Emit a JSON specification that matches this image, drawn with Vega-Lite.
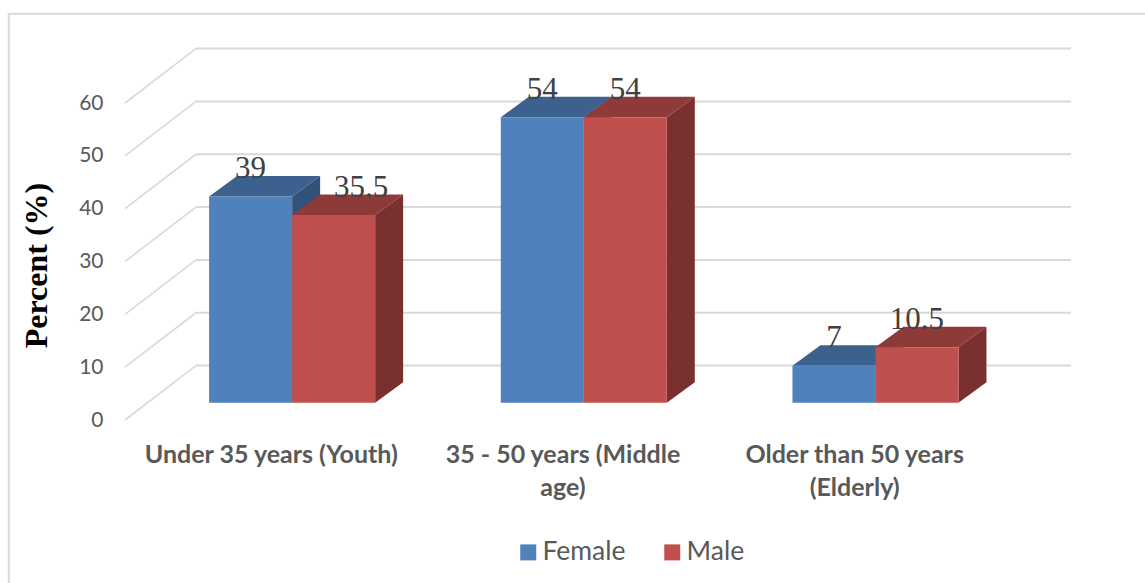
{
  "$schema": "https://vega.github.io/schema/vega-lite/v6.json",
  "width": 875,
  "height": 317,
  "autosize": "none",
  "padding": {"left": 125, "top": 103, "right": 145, "bottom": 163},
  "background": "white",
  "config": {"view": {"stroke": null}},
  "datasets": {
    "bars": [
      {"age": "Under 35 years (Youth)", "slot": 0, "sex": "Female", "side": 0, "percent": 39},
      {"age": "Under 35 years (Youth)", "slot": 0, "sex": "Male", "side": 1, "percent": 35.5},
      {"age": "35 - 50 years (Middle age)", "slot": 1, "sex": "Female", "side": 0, "percent": 54},
      {"age": "35 - 50 years (Middle age)", "slot": 1, "sex": "Male", "side": 1, "percent": 54},
      {"age": "Older than 50 years (Elderly)", "slot": 2, "sex": "Female", "side": 0, "percent": 7},
      {"age": "Older than 50 years (Elderly)", "slot": 2, "sex": "Male", "side": 1, "percent": 10.5}
    ],
    "ticks": [{"tick": 0}, {"tick": 10}, {"tick": 20}, {"tick": 30}, {"tick": 40}, {"tick": 50}, {"tick": 60}],
    "frame": [{"name": "chart area"}]
  },
  "layer": [
    {
      "description": "Chart area outline",
      "data": {"name": "frame"},
      "transform": [
        {"calculate": "-0.3987", "as": "x0"},
        {"calculate": "3.6", "as": "x1"},
        {"calculate": "76.9", "as": "y0"},
        {"calculate": "-33", "as": "y1"}
      ],
      "mark": {"type": "rect", "fill": null, "stroke": "#d9d9d9", "strokeWidth": 2, "clip": false},
      "encoding": {
        "x": {"field": "x0", "type": "quantitative", "scale": {"domain": [0, 3], "nice": false}},
        "x2": {"field": "x1"},
        "y": {"field": "y0", "type": "quantitative", "scale": {"domain": [0, 60], "nice": false}},
        "y2": {"field": "y1"}
      }
    },
    {
      "description": "Side wall gridlines running back from the front plane",
      "data": {"name": "ticks"},
      "transform": [
        {"calculate": "0", "as": "frontX"},
        {"calculate": "0.2434", "as": "wallX"},
        {"calculate": "datum.tick + 10.3", "as": "wallY"}
      ],
      "mark": {"type": "rule", "color": "#d9d9d9", "strokeWidth": 1.6},
      "encoding": {
        "x": {"field": "frontX", "type": "quantitative"},
        "x2": {"field": "wallX"},
        "y": {"field": "tick", "type": "quantitative"},
        "y2": {"field": "wallY"}
      }
    },
    {
      "description": "Back wall gridlines",
      "data": {"name": "ticks"},
      "transform": [
        {"calculate": "0.2434", "as": "wallX"},
        {"calculate": "3.2434", "as": "wallEnd"},
        {"calculate": "datum.tick + 10.3", "as": "wallY"}
      ],
      "mark": {"type": "rule", "color": "#d9d9d9", "strokeWidth": 2},
      "encoding": {
        "x": {"field": "wallX", "type": "quantitative"},
        "x2": {"field": "wallEnd"},
        "y": {"field": "wallY", "type": "quantitative"}
      }
    },
    {
      "description": "Right side faces of the bars",
      "data": {"name": "bars"},
      "transform": [
        {"calculate": "datum.slot + 0.2884 + (datum.side + 1) * 0.2846", "as": "right"},
        {"fold": ["right", "percent"], "as": ["edge", "unused"]},
        {"calculate": "datum.edge === 'percent' ? 0.096 : 0", "as": "shift"},
        {"calculate": "datum.right + datum.shift", "as": "x0"},
        {"calculate": "3.28 + (datum.edge === 'percent' ? 3.88 : 0)", "as": "yLow"},
        {"calculate": "datum.percent + datum.yLow", "as": "yHigh"},
        {"calculate": "datum.sex === 'Female' ? '#325279' : '#7a302e'", "as": "shade"},
        {"calculate": "datum.age + datum.sex", "as": "barKey"}
      ],
      "mark": {"type": "area", "orient": "vertical"},
      "encoding": {
        "x": {"field": "x0", "type": "quantitative"},
        "y": {"field": "yHigh", "type": "quantitative"},
        "y2": {"field": "yLow"},
        "detail": {"field": "barKey", "type": "nominal"},
        "fill": {"field": "shade", "type": "nominal", "scale": null}
      }
    },
    {
      "description": "Top faces of the bars",
      "data": {"name": "bars"},
      "transform": [
        {"calculate": "datum.slot + 0.2884 + datum.side * 0.2846", "as": "left"},
        {"fold": ["left", "percent"], "as": ["edge", "unused"]},
        {"calculate": "datum.edge === 'percent' ? 0.096 : 0", "as": "shift"},
        {"calculate": "datum.left + datum.shift", "as": "x0"},
        {"calculate": "datum.x0 + 0.2846", "as": "x1"},
        {"calculate": "datum.percent + 3.28 + (datum.edge === 'percent' ? 3.88 : 0)", "as": "y0"},
        {"calculate": "datum.sex === 'Female' ? '#3c618f' : '#8e3a38'", "as": "shade"},
        {"calculate": "datum.age + datum.sex", "as": "barKey"}
      ],
      "mark": {"type": "area", "orient": "horizontal"},
      "encoding": {
        "y": {"field": "y0", "type": "quantitative"},
        "x": {"field": "x0", "type": "quantitative"},
        "x2": {"field": "x1"},
        "detail": {"field": "barKey", "type": "nominal"},
        "fill": {"field": "shade", "type": "nominal", "scale": null}
      }
    },
    {
      "description": "Front faces of the bars, carrying the axes and the legend",
      "data": {"name": "bars"},
      "transform": [
        {"calculate": "datum.slot + 0.2884 + datum.side * 0.2846", "as": "left"},
        {"calculate": "datum.left + 0.2846", "as": "right"},
        {"calculate": "3.28", "as": "base"},
        {"calculate": "datum.percent + 3.28", "as": "front"}
      ],
      "mark": {"type": "rect"},
      "encoding": {
        "x": {
          "field": "left",
          "type": "quantitative",
          "axis": {
            "values": [0.5, 1.5, 2.5],
            "labelExpr": "datum.value === 0.5 ? 'Under 35 years (Youth)' : datum.value === 1.5 ? ['35 - 50 years (Middle', 'age)'] : ['Older than 50 years', '(Elderly)']",
            "title": null,
            "domain": false,
            "ticks": false,
            "grid": false,
            "labelFont": "Lato",
            "labelFontSize": 25,
            "labelFontWeight": "bold",
            "labelColor": "#595959",
            "labelPadding": 22,
            "labelLineHeight": 33,
            "labelFlush": false,
            "labelOverlap": false,
            "labelLimit": 400
          }
        },
        "x2": {"field": "right"},
        "y": {
          "field": "base",
          "type": "quantitative",
          "axis": {
            "values": [0, 10, 20, 30, 40, 50, 60],
            "title": "Percent (%)",
            "titleFont": "Liberation Serif",
            "titleFontSize": 32,
            "titleFontWeight": "bold",
            "titleColor": "#000000",
            "titlePadding": 25,
            "titleY": 162,
            "domain": false,
            "ticks": false,
            "grid": false,
            "labelFont": "Lato",
            "labelFontSize": 21,
            "labelColor": "#595959",
            "labelPadding": 22
          }
        },
        "y2": {"field": "front"},
        "color": {
          "field": "sex",
          "type": "nominal",
          "scale": {
            "domain": ["Female", "Male"],
            "range": ["#4f81bd", "#c0504d"]
          },
          "legend": {
            "orient": "none",
            "legendX": 390,
            "legendY": 436,
            "direction": "horizontal",
            "title": null,
            "symbolType": "square",
            "symbolSize": 256,
            "symbolStrokeWidth": 0,
            "labelFont": "Lato",
            "labelFontSize": 26.5,
            "labelColor": "#595959",
            "columnPadding": 33,
            "labelOffset": 1
          }
        }
      }
    },
    {
      "description": "Value labels sitting on the back edge of each bar",
      "data": {"name": "bars"},
      "transform": [
        {"calculate": "datum.slot + 0.2884 + (datum.side + 0.5) * 0.2846 + (datum.percent === 35.5 ? 0.094 : 0)", "as": "labelX"},
        {"calculate": "datum.percent + 3.28 + 3.88", "as": "labelY"}
      ],
      "mark": {"type": "text", "font": "Liberation Serif", "fontSize": 31, "color": "#404040", "baseline": "alphabetic", "dy": 2},
      "encoding": {
        "x": {"field": "labelX", "type": "quantitative"},
        "y": {"field": "labelY", "type": "quantitative"},
        "text": {"field": "percent", "type": "quantitative"}
      }
    }
  ]
}
